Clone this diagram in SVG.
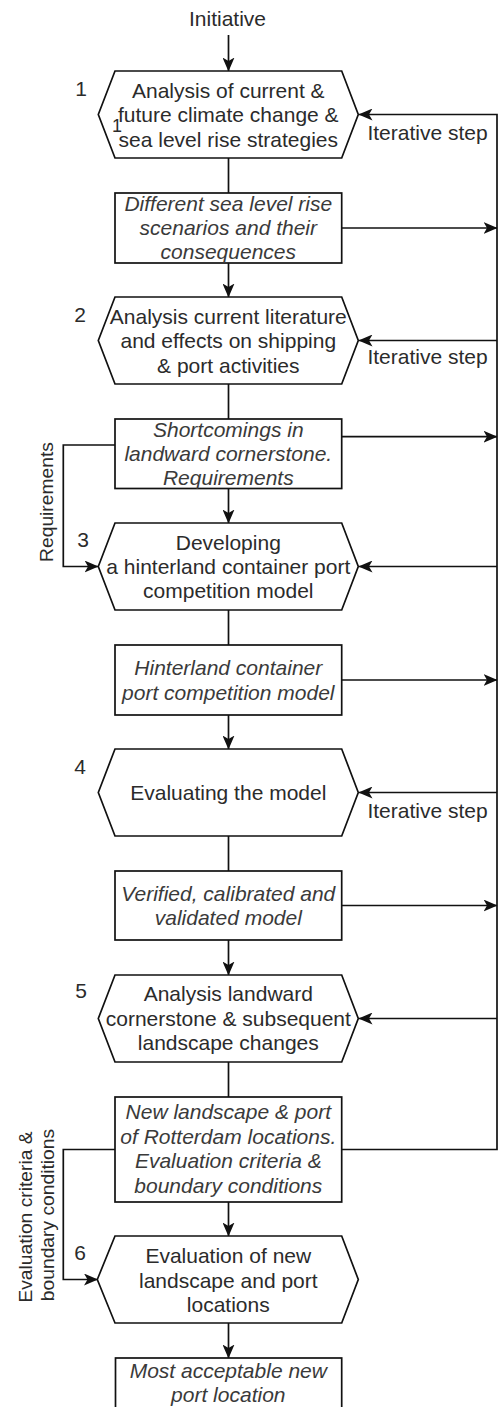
<svg xmlns="http://www.w3.org/2000/svg" width="499" height="1407" viewBox="0 0 499 1407">
  <style>
    .shape { fill: #ffffff; stroke: #111111; stroke-width: 1.7; }
    .edge { fill: none; stroke: #111111; stroke-width: 1.7; }
    .arr { marker-end: url(#arrow); }
    text { font-family: "Liberation Sans", Arial, sans-serif; font-size: 21px; fill: #2b2b2b; }
    .c { text-anchor: middle; }
    .it { font-style: italic; fill: #3a3a3a; }
    .side { font-size: 19.25px; text-anchor: middle; }
  </style>
  <defs>
    <marker id="arrow" markerUnits="userSpaceOnUse" viewBox="0 0 14 12" markerWidth="14" markerHeight="12" refX="13.5" refY="6" orient="auto">
      <path d="M0,0 L14,6 L0,12 L3.5,6 Z" fill="#111111"/>
    </marker>
  </defs>

  <!-- connectors -->
  <g id="connectors">
    <!-- main flow -->
    <path class="edge arr" d="M228.5,35 V71"/>
    <path class="edge" d="M228.5,158 V193"/>
    <path class="edge arr" d="M228.5,263 V297"/>
    <path class="edge" d="M228.5,384 V419"/>
    <path class="edge arr" d="M228.5,488.5 V523"/>
    <path class="edge" d="M228.5,610 V645"/>
    <path class="edge arr" d="M228.5,715 V749"/>
    <path class="edge" d="M228.5,836 V871"/>
    <path class="edge arr" d="M228.5,940 V975"/>
    <path class="edge" d="M228.5,1062 V1097"/>
    <path class="edge arr" d="M228.5,1202 V1236"/>
    <path class="edge arr" d="M228.5,1323 V1358"/>
    <!-- outputs to the feedback bus -->
    <path class="edge arr" d="M341.7,228 H497"/>
    <path class="edge arr" d="M341.7,436.7 H497"/>
    <path class="edge arr" d="M341.7,680 H497"/>
    <path class="edge arr" d="M341.7,905.5 H497"/>
    <!-- feedback bus -->
    <path class="edge arr" d="M341.7,1149.5 H497 V114.5 H359"/>
    <path class="edge arr" d="M497,340.5 H359"/>
    <path class="edge arr" d="M497,566.5 H359"/>
    <path class="edge arr" d="M497,792.5 H359"/>
    <path class="edge arr" d="M497,1018.5 H359"/>
    <!-- side branches -->
    <path class="edge arr" d="M115,445 H63.3 V566.5 H98"/>
    <path class="edge arr" d="M115,1149.5 H63.3 V1279.5 H97.5"/>
  </g>

  <!-- edge labels -->
  <g id="labels">
    <text class="c" x="227.5" y="26">Initiative</text>
    <text class="c" x="427.5" y="139.5">Iterative step</text>
    <text class="c" x="427.5" y="364">Iterative step</text>
    <text class="c" x="427.5" y="817.5">Iterative step</text>
    <text class="side" transform="translate(53,502) rotate(-90)">Requirements</text>
    <text class="side" transform="translate(31.5,1217) rotate(-90)">Evaluation criteria &amp;</text>
    <text class="side" transform="translate(54,1215) rotate(-90)">boundary conditions</text>
  </g>

  <!-- step 1 -->
  <g id="step1">
    <polygon class="shape" points="98.3,114.5 115,71 341.7,71 358.3,114.5 341.7,158 115,158"/>
    <text class="c" x="81" y="96">1</text>
    <text class="c" x="228.3" y="97.5">Analysis of current &amp;</text>
    <text class="c" x="228.3" y="122">future climate change &amp;</text>
    <text class="c" x="228.3" y="146.5">sea level rise strategies</text>
    <text class="c" x="117" y="131.5" style="font-size:18px">1</text>
  </g>
  <g id="result1">
    <rect class="shape" x="115" y="193" width="226.7" height="70"/>
    <text class="c it" x="228.3" y="211">Different sea level rise</text>
    <text class="c it" x="228.3" y="235">scenarios and their</text>
    <text class="c it" x="228.3" y="259">consequences</text>
  </g>

  <!-- step 2 -->
  <g id="step2">
    <polygon class="shape" points="98.3,340.5 115,297 341.7,297 358.3,340.5 341.7,384 115,384"/>
    <text class="c" x="80" y="321.5">2</text>
    <text class="c" x="228.3" y="324">Analysis current literature</text>
    <text class="c" x="228.3" y="348.3">and effects on shipping</text>
    <text class="c" x="228.3" y="372.7">&amp; port activities</text>
  </g>
  <g id="result2">
    <rect class="shape" x="115" y="419" width="226.7" height="69.5"/>
    <text class="c it" x="228.3" y="436.7">Shortcomings in</text>
    <text class="c it" x="228.3" y="461">landward cornerstone.</text>
    <text class="c it" x="228.3" y="485">Requirements</text>
  </g>

  <!-- step 3 -->
  <g id="step3">
    <polygon class="shape" points="98.3,566.5 115,523 341.7,523 358.3,566.5 341.7,610 115,610"/>
    <text class="c" x="83" y="546.7">3</text>
    <text class="c" x="228.3" y="550">Developing</text>
    <text class="c" x="228.3" y="574">a hinterland container port</text>
    <text class="c" x="228.3" y="597.5">competition model</text>
  </g>
  <g id="result3">
    <rect class="shape" x="115" y="645" width="226.7" height="70"/>
    <text class="c it" x="228.3" y="675.2">Hinterland container</text>
    <text class="c it" x="228.3" y="699.7">port competition model</text>
  </g>

  <!-- step 4 -->
  <g id="step4">
    <polygon class="shape" points="98.3,792.5 115,749 341.7,749 358.3,792.5 341.7,836 115,836"/>
    <text class="c" x="80" y="774">4</text>
    <text class="c" x="228.3" y="800">Evaluating the model</text>
  </g>
  <g id="result4">
    <rect class="shape" x="115" y="871" width="226.7" height="69"/>
    <text class="c it" x="228.3" y="900.7">Verified, calibrated and</text>
    <text class="c it" x="228.3" y="925.2">validated model</text>
  </g>

  <!-- step 5 -->
  <g id="step5">
    <polygon class="shape" points="98.3,1018.5 115,975 341.7,975 358.3,1018.5 341.7,1062 115,1062"/>
    <text class="c" x="81" y="998.3">5</text>
    <text class="c" x="228.3" y="1001">Analysis landward</text>
    <text class="c" x="228.3" y="1025.5">cornerstone &amp; subsequent</text>
    <text class="c" x="228.3" y="1050">landscape changes</text>
  </g>
  <g id="result5">
    <rect class="shape" x="115" y="1097" width="226.7" height="105"/>
    <text class="c it" x="228.3" y="1119.3">New landscape &amp; port</text>
    <text class="c it" x="228.3" y="1143.7">of Rotterdam locations.</text>
    <text class="c it" x="228.3" y="1168.2">Evaluation criteria &amp;</text>
    <text class="c it" x="228.3" y="1192.7">boundary conditions</text>
  </g>

  <!-- step 6 -->
  <g id="step6">
    <polygon class="shape" points="97.3,1279.5 115,1236 341.7,1236 358.3,1279.5 341.7,1323 115,1323"/>
    <text class="c" x="80" y="1260">6</text>
    <text class="c" x="228.3" y="1263.3">Evaluation of new</text>
    <text class="c" x="228.3" y="1287.5">landscape and port</text>
    <text class="c" x="228.3" y="1311.5">locations</text>
  </g>
  <g id="result6">
    <rect class="shape" x="115.5" y="1358" width="226.2" height="70"/>
    <text class="c it" x="228.3" y="1378.3">Most acceptable new</text>
    <text class="c it" x="228.3" y="1402">port location</text>
  </g>
</svg>
